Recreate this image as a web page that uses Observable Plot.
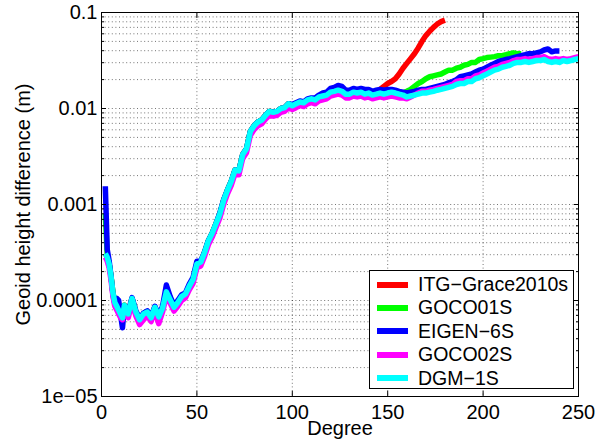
<!DOCTYPE html>
<html>
<head>
<meta charset="utf-8">
<script src="https://cdn.jsdelivr.net/npm/d3@7"></script>
<script src="https://cdn.jsdelivr.net/npm/@observablehq/plot@0.6"></script>
<style>
  body { margin: 0; background: #fff; font-family: "Liberation Sans", Arial, sans-serif; }
  #wrap { position: relative; width: 604px; height: 444px; }
  #legend { position: absolute; left: 369px; top: 270px; width: 205px; height: 119px; border: 1px solid #000; background: #fff; box-sizing: border-box; padding-top: 2px; }
  .row { position: relative; height: 23.4px; }
  .sw { position: absolute; left: 7px; top: 8.5px; width: 31px; height: 6px; }
  .lb { position: absolute; left: 48px; top: 0; line-height: 23.4px; font-size: 19.5px; color: #000; white-space: nowrap; }
</style>
</head>
<body>
<div id="wrap"><div id="chart"></div><div id="legend"></div></div>
<script>
const degrees = [2,3,4,5,6,7,8,9,10,11,12,
  14,16,18,20,22,24,26,28,30,32,
  34,36,38,40,42,44,46,48,50,52,
  54,56,58,60,62,64,66,68,70,72,
  74,76,78,80,82,84,86,88,90,92,
  94,96,98,100,102,104,106,108,110,112,
  114,116,118,120,122,124,126,128,130,132,
  134,136,138,140,142,144,146,148,150,152,
  154,156,158,160,162,164,166,168,170,172,
  174,176,178,180,182,184,186,188,190,192,
  194,196,198,200,202,204,206,208,210,212,
  214,216,218,220,222,224,226,228,230,232,
  234,236,238,240,242,244,246,248,250];

const seriesNames = ["ITG\u2212Grace2010s", "GOCO01S", "EIGEN\u22126S", "GOCO02S", "DGM\u22121S"];
const seriesColors = ["#ff0000", "#00ff00", "#0000ff", "#ff00ff", "#00ffff"];

const itgGrace2010s = [3.09e-4,2.82e-4,2.40e-4,1.78e-4,1.20e-4,9.55e-5,8.71e-5,7.94e-5,7.24e-5,6.61e-5,8.91e-5,
  7.24e-5,1.05e-4,7.59e-5,6.31e-5,7.24e-5,7.59e-5,6.61e-5,8.51e-5,6.76e-5,8.32e-5,
  1.23e-4,1.02e-4,8.51e-5,9.55e-5,1.10e-4,1.17e-4,1.41e-4,1.66e-4,2.40e-4,2.51e-4,
  3.16e-4,4.17e-4,5.01e-4,6.31e-4,7.94e-4,1.10e-3,1.41e-3,1.74e-3,2.29e-3,2.24e-3,
  3.31e-3,3.80e-3,5.75e-3,6.61e-3,7.24e-3,7.59e-3,8.51e-3,9.33e-3,9.12e-3,9.33e-3,
  1.00e-2,1.02e-2,1.12e-2,1.07e-2,1.12e-2,1.17e-2,1.15e-2,1.23e-2,1.26e-2,1.23e-2,
  1.32e-2,1.35e-2,1.38e-2,1.48e-2,1.51e-2,1.55e-2,1.51e-2,1.41e-2,1.41e-2,1.48e-2,
  1.45e-2,1.48e-2,1.41e-2,1.45e-2,1.38e-2,1.41e-2,1.58e-2,1.70e-2,1.82e-2,1.91e-2,
  2.04e-2,2.29e-2,2.63e-2,2.95e-2,3.31e-2,3.72e-2,4.27e-2,5.01e-2,5.75e-2,6.38e-2,
  7.00e-2,7.59e-2,8.04e-2,8.32e-2];

const goco01s = [8.0e-4,3.0e-4,2.40e-4,1.78e-4,1.20e-4,9.55e-5,8.71e-5,7.94e-5,7.24e-5,6.61e-5,8.91e-5,
  7.24e-5,1.05e-4,7.59e-5,6.31e-5,7.24e-5,7.59e-5,6.61e-5,8.51e-5,6.76e-5,8.32e-5,
  1.23e-4,1.02e-4,8.51e-5,9.55e-5,1.10e-4,1.17e-4,1.41e-4,1.66e-4,2.40e-4,2.51e-4,
  3.16e-4,4.17e-4,5.01e-4,6.31e-4,7.94e-4,1.10e-3,1.41e-3,1.74e-3,2.29e-3,2.24e-3,
  3.31e-3,3.80e-3,5.75e-3,6.61e-3,7.24e-3,7.59e-3,8.51e-3,9.33e-3,9.12e-3,9.33e-3,
  1.00e-2,1.02e-2,1.12e-2,1.07e-2,1.12e-2,1.17e-2,1.15e-2,1.23e-2,1.26e-2,1.23e-2,
  1.32e-2,1.35e-2,1.38e-2,1.48e-2,1.51e-2,1.55e-2,1.51e-2,1.41e-2,1.41e-2,1.48e-2,
  1.45e-2,1.48e-2,1.41e-2,1.45e-2,1.38e-2,1.41e-2,1.45e-2,1.41e-2,1.45e-2,1.48e-2,
  1.45e-2,1.41e-2,1.45e-2,1.51e-2,1.58e-2,1.70e-2,1.82e-2,1.91e-2,2.04e-2,2.14e-2,
  2.19e-2,2.24e-2,2.29e-2,2.40e-2,2.51e-2,2.51e-2,2.63e-2,2.69e-2,2.82e-2,2.88e-2,
  3.02e-2,3.02e-2,3.24e-2,3.31e-2,3.39e-2,3.43e-2,3.47e-2,3.55e-2,3.55e-2,3.63e-2,
  3.72e-2,3.80e-2,3.72e-2,3.72e-2];

const eigen6s = [1.55e-3,3.40e-4,2.60e-4,1.78e-4,1.15e-4,9.10e-5,1.05e-4,1.00e-4,7.10e-5,5.20e-5,8.70e-5,
  7.60e-5,1.07e-4,7.80e-5,6.50e-5,7.40e-5,7.80e-5,6.80e-5,8.70e-5,7.00e-5,8.70e-5,
  1.45e-4,1.10e-4,8.90e-5,1.00e-4,1.15e-4,1.20e-4,1.48e-4,1.74e-4,2.57e-4,2.57e-4,
  3.20e-4,4.20e-4,5.00e-4,6.30e-4,8.10e-4,1.12e-3,1.41e-3,1.74e-3,2.29e-3,2.24e-3,
  3.31e-3,3.80e-3,5.75e-3,6.61e-3,7.24e-3,7.59e-3,8.51e-3,9.33e-3,9.12e-3,9.33e-3,
  1.00e-2,1.02e-2,1.12e-2,1.10e-2,1.15e-2,1.20e-2,1.17e-2,1.26e-2,1.29e-2,1.29e-2,
  1.38e-2,1.45e-2,1.48e-2,1.62e-2,1.66e-2,1.74e-2,1.70e-2,1.55e-2,1.55e-2,1.62e-2,
  1.58e-2,1.62e-2,1.58e-2,1.58e-2,1.51e-2,1.55e-2,1.58e-2,1.55e-2,1.58e-2,1.58e-2,
  1.55e-2,1.51e-2,1.48e-2,1.45e-2,1.48e-2,1.51e-2,1.55e-2,1.58e-2,1.58e-2,1.62e-2,
  1.66e-2,1.70e-2,1.74e-2,1.78e-2,1.86e-2,1.91e-2,2.00e-2,2.14e-2,2.19e-2,2.24e-2,
  2.29e-2,2.40e-2,2.51e-2,2.57e-2,2.69e-2,2.82e-2,2.95e-2,3.09e-2,3.16e-2,3.24e-2,
  3.31e-2,3.39e-2,3.47e-2,3.55e-2,3.63e-2,3.72e-2,3.72e-2,3.80e-2,3.89e-2,4.07e-2,
  4.17e-2,3.89e-2,3.98e-2,3.98e-2];

const goco02s = [2.82e-4,2.57e-4,2.19e-4,1.62e-4,1.10e-4,8.71e-5,7.94e-5,7.24e-5,6.61e-5,6.31e-5,8.13e-5,
  6.61e-5,9.55e-5,6.92e-5,5.62e-5,6.31e-5,6.92e-5,6.03e-5,7.76e-5,5.75e-5,7.59e-5,
  1.12e-4,9.33e-5,7.76e-5,8.71e-5,1.00e-4,1.07e-4,1.29e-4,1.51e-4,2.19e-4,2.29e-4,
  2.88e-4,3.80e-4,4.57e-4,5.75e-4,7.24e-4,1.00e-3,1.29e-3,1.58e-3,2.09e-3,2.04e-3,
  3.02e-3,3.47e-3,5.25e-3,6.03e-3,6.61e-3,6.92e-3,7.76e-3,8.51e-3,8.32e-3,8.51e-3,
  9.12e-3,9.33e-3,1.02e-2,9.77e-3,1.02e-2,1.07e-2,1.05e-2,1.12e-2,1.15e-2,1.12e-2,
  1.20e-2,1.23e-2,1.26e-2,1.35e-2,1.38e-2,1.41e-2,1.38e-2,1.29e-2,1.29e-2,1.35e-2,
  1.32e-2,1.35e-2,1.29e-2,1.32e-2,1.26e-2,1.29e-2,1.32e-2,1.29e-2,1.32e-2,1.35e-2,
  1.32e-2,1.29e-2,1.29e-2,1.26e-2,1.32e-2,1.38e-2,1.45e-2,1.51e-2,1.51e-2,1.55e-2,
  1.58e-2,1.62e-2,1.66e-2,1.70e-2,1.74e-2,1.78e-2,1.91e-2,1.95e-2,1.95e-2,2.04e-2,
  2.04e-2,2.19e-2,2.24e-2,2.34e-2,2.45e-2,2.57e-2,2.69e-2,2.75e-2,2.88e-2,2.95e-2,
  3.02e-2,3.16e-2,3.24e-2,3.24e-2,3.31e-2,3.24e-2,3.31e-2,3.39e-2,3.39e-2,3.47e-2,
  3.31e-2,3.24e-2,3.31e-2,3.24e-2,3.31e-2,3.24e-2,3.31e-2,3.39e-2,3.47e-2];

const dgm1s = [3.09e-4,2.82e-4,2.40e-4,1.78e-4,1.20e-4,9.55e-5,8.71e-5,7.94e-5,7.24e-5,6.61e-5,8.91e-5,
  7.24e-5,1.05e-4,7.59e-5,6.31e-5,7.24e-5,7.59e-5,6.61e-5,8.51e-5,6.76e-5,8.32e-5,
  1.23e-4,1.02e-4,8.51e-5,9.55e-5,1.10e-4,1.17e-4,1.41e-4,1.66e-4,2.40e-4,2.51e-4,
  3.16e-4,4.17e-4,5.01e-4,6.31e-4,7.94e-4,1.10e-3,1.41e-3,1.74e-3,2.29e-3,2.24e-3,
  3.31e-3,3.80e-3,5.75e-3,6.61e-3,7.24e-3,7.59e-3,8.51e-3,9.33e-3,9.12e-3,9.33e-3,
  1.00e-2,1.02e-2,1.12e-2,1.07e-2,1.12e-2,1.17e-2,1.15e-2,1.23e-2,1.26e-2,1.23e-2,
  1.32e-2,1.35e-2,1.38e-2,1.48e-2,1.51e-2,1.55e-2,1.51e-2,1.41e-2,1.41e-2,1.48e-2,
  1.45e-2,1.48e-2,1.41e-2,1.45e-2,1.38e-2,1.41e-2,1.45e-2,1.41e-2,1.45e-2,1.48e-2,
  1.45e-2,1.41e-2,1.38e-2,1.32e-2,1.35e-2,1.38e-2,1.41e-2,1.45e-2,1.45e-2,1.48e-2,
  1.51e-2,1.55e-2,1.58e-2,1.62e-2,1.66e-2,1.70e-2,1.78e-2,1.82e-2,1.82e-2,1.91e-2,
  1.91e-2,2.04e-2,2.09e-2,2.19e-2,2.29e-2,2.40e-2,2.51e-2,2.57e-2,2.69e-2,2.75e-2,
  2.82e-2,2.95e-2,3.02e-2,3.02e-2,3.09e-2,3.02e-2,3.09e-2,3.16e-2,3.16e-2,3.24e-2,
  3.09e-2,3.02e-2,3.09e-2,3.02e-2,3.16e-2,3.09e-2,3.16e-2,3.24e-2,3.31e-2];

const xTicks = [0, 50, 100, 150, 200, 250];
const xTickLabels = ["0", "50", "100", "150", "200", "250"];
const yTicks = [1e-5, 1e-4, 1e-3, 1e-2, 1e-1];
const yTickLabels = ["1e\u221205", "0.0001", "0.001", "0.01", "0.1"];
const yMultipliers = [2, 3, 4, 5, 6, 7, 8, 9];
const xLabel = "Degree";
const yLabel = "Geoid height difference (m)";

const allSeries = [itgGrace2010s, goco01s, eigen6s, goco02s, dgm1s];
const rows = [];
allSeries.forEach((vals, s) => vals.forEach((v, i) => rows.push({degree: degrees[i], value: v, model: seriesNames[s]})));

const yMinor = [];
yTicks.slice(0, -1).forEach(d => yMultipliers.forEach(m => yMinor.push(d * m)));
const yGrid = yMinor.concat(yTicks.slice(1, -1));
const xGrid = xTicks.slice(1, -1);

const FS = 20;
const font = "Liberation Sans, Arial, sans-serif";
const dotted = {stroke: "#000", strokeOpacity: 0.55, strokeDasharray: "1,2.6", strokeWidth: 1};

const chart = Plot.plot({
  width: 604, height: 444,
  marginLeft: 101, marginRight: 26, marginTop: 12, marginBottom: 48,
  style: {fontFamily: font, fontSize: FS + "px", color: "#000", background: "#fff"},
  x: {domain: [0, 250], axis: null},
  y: {type: "log", domain: [1e-5, 0.1], axis: null},
  color: {domain: seriesNames, range: seriesColors},
  marks: [
    Plot.gridY(yGrid, dotted),
    Plot.gridX(xGrid, dotted),
    Plot.line(rows, {x: "degree", y: "value", z: "model", stroke: "model", strokeWidth: 5.5, strokeLinejoin: "round", strokeLinecap: "butt", clip: true}),
    Plot.frame({stroke: "#000", strokeWidth: 1}),
    Plot.axisX(xTicks, {anchor: "bottom", tickSize: 5, dy: -5, fill: "none", label: null}),
    Plot.axisX(xTicks, {anchor: "top", tickSize: 5, dy: 5, fill: "none", label: null}),
    Plot.axisY(yTicks, {anchor: "left", tickSize: 5, dx: 5, fill: "none", label: null}),
    Plot.axisY(yTicks, {anchor: "right", tickSize: 5, dx: -5, fill: "none", label: null}),
    Plot.axisY(yMinor, {anchor: "left", tickSize: 3, dx: 3, fill: "none", label: null}),
    Plot.axisY(yMinor, {anchor: "right", tickSize: 3, dx: -3, fill: "none", label: null}),
    Plot.axisX(xTicks, {anchor: "bottom", tickSize: 0, tickPadding: 8, label: null, fontSize: FS,
      tickFormat: d => xTickLabels[xTicks.indexOf(d)]}),
    Plot.axisY(yTicks, {anchor: "left", tickSize: 0, tickPadding: 4, label: null, fontSize: FS,
      tickFormat: d => yTickLabels[yTicks.indexOf(d)]}),
    Plot.text([xLabel], {frameAnchor: "bottom", dy: 38, text: d => d, fontSize: FS, fill: "#000"}),
    Plot.text([yLabel], {frameAnchor: "left", textAnchor: "middle", rotate: -90, dx: -78, text: d => d, fontSize: FS, fill: "#000"})
  ]
});
document.getElementById("chart").appendChild(chart);

const legend = document.getElementById("legend");
seriesNames.forEach((name, i) => {
  const row = document.createElement("div");
  row.className = "row";
  const sw = document.createElement("div");
  sw.className = "sw";
  sw.style.background = seriesColors[i];
  const lb = document.createElement("div");
  lb.className = "lb";
  lb.textContent = name;
  row.appendChild(sw);
  row.appendChild(lb);
  legend.appendChild(row);
});
</script>
</body>
</html>
